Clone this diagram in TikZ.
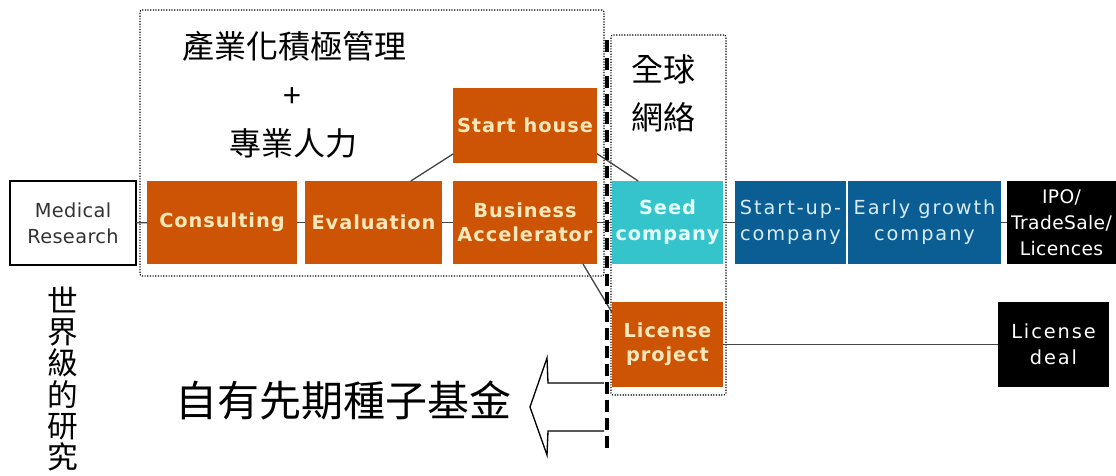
\documentclass[tikz,border=0pt]{standalone}
\usepackage{fontspec}
\setmainfont{DejaVu Sans}
\newfontfamily\cjk{Noto Sans CJK TC}
\newfontfamily\bxfont[LetterSpace=10]{DejaVu Sans}
\newfontfamily\bxplain[LetterSpace=2]{DejaVu Sans}
\newfontfamily\bxboldf[LetterSpace=5]{DejaVu Sans}
\definecolor{orangeC}{RGB}{204,84,4}
\definecolor{creamC}{RGB}{250,232,186}
\definecolor{cyanC}{RGB}{54,196,204}
\definecolor{cyantxt}{RGB}{228,255,255}
\definecolor{blueC}{RGB}{10,94,148}
\definecolor{bluetxt}{RGB}{215,236,248}
\definecolor{lineC}{RGB}{70,70,70}
\newcommand\rbox[7]{\node[#1, minimum width={(#4-#2)*0.75pt}, minimum height={(#5-#3)*0.75pt}] (#6) at ({(#2+#4)/2},{(#3+#5)/2}) {#7};}
\begin{document}
\begin{tikzpicture}[x=0.75pt,y=-0.75pt,
  box/.style={inner sep=0pt, outer sep=0pt, align=center, font=\bxfont\fontsize{14.5}{19.5}\selectfont},
  obox/.style={box, fill=orangeC, text=creamC, font=\bxboldf\bfseries\fontsize{14.5}{18}\selectfont},
  cbox/.style={box, fill=cyanC, text=cyantxt, font=\bxboldf\bfseries\fontsize{14.5}{19.5}\selectfont},
  bbox/.style={box, fill=blueC, text=bluetxt},
  kbox/.style={box, fill=black, text=white},
  wbox/.style={box, fill=white, draw=black, line width=1.1pt, text=black!80, font=\bxplain\fontsize{14.5}{19.5}\selectfont},
  frame/.style={inner sep=0pt, draw=black, line width=0.9pt, dash pattern=on 0.9pt off 1.1pt, rounded corners=1.5pt},
  conn/.style={draw=lineC, line width=1pt},
  cjktext/.style={inner sep=0pt, font=\cjk\fontsize{24}{30}\selectfont},
  dashline/.style={draw=black, line width=2.4pt, dash pattern=on 9pt off 4.5pt},
]
\useasboundingbox (0,0) rectangle (1116,475);

% frames
\rbox{frame}{140}{10}{604}{276}{frameA}{}
\rbox{frame}{611}{35}{726}{395}{frameB}{}

% boxes
\rbox{wbox}{10}{181}{136}{265}{med}{Medical\\Research}
\rbox{obox}{147}{181}{297}{264}{cons}{Consulting}
\rbox{obox}{305}{181}{442}{264}{eval}{Evaluation}
\rbox{obox}{453}{181}{597}{264}{bacc}{Business\\Accelerator}
\rbox{obox}{453}{88}{597}{163}{start}{Start house}
\rbox{cbox}{612}{181}{723}{264}{seed}{Seed\\company}
\rbox{bbox}{735}{181}{846}{264}{sup}{Start-up-\\company}
\rbox{bbox}{848}{181}{1001}{264}{early}{Early growth\\company}
\rbox{kbox, font=\bxplain\fontsize{14}{19.5}\selectfont}{1007}{181}{1116}{264}{ipo}{IPO/\\TradeSale/\\Licences}
\rbox{obox}{612}{302}{723}{387}{lproj}{License\\project}
\rbox{kbox}{998}{302}{1109}{387}{ldeal}{License\\deal}

% connectors
\draw[conn] (med) -- (cons);
\draw[conn] (cons) -- (eval);
\draw[conn] (eval) -- (bacc);
\draw[conn] (bacc) -- (seed);
\draw[conn] (seed) -- (sup);
\draw[conn] (early) -- (ipo);
\draw[conn] (lproj) -- (ldeal);
\draw[conn] ([xshift=28pt]eval.north) -- ([yshift=6.75pt]start.south west);
\draw[conn] ([yshift=7pt]start.south east) -- ([xshift=-22pt]seed.north);
\draw[conn] ([xshift=-10.5pt]bacc.south east) -- ([yshift=24pt]lproj.west);

% dashed separator
\draw[dashline] (607,40) -- (607,450);

% texts
\node[cjktext] (t1) at (294,46) {產業化積極管理};
\node[cjktext] (t2) at (292,98) {+};
\node[cjktext] (t3) at (293,143) {專業人力};
\node[cjktext] (t4) at (663,69) {全球};
\node[cjktext] (t5) at (663,117) {網絡};
\node[inner sep=0pt, align=center, font=\cjk\fontsize{23}{23.5}\selectfont] (t6) at (63,379) {世\\界\\級\\的\\研\\究};
\node[inner sep=0pt, font=\cjk\fontsize{31.5}{36}\selectfont] (t7) at (343,400) {自有先期種子基金};

% block arrow
\draw[black, line width=1pt, fill=white] (604,383) -- (548,383) -- (547,358) -- (530,407) -- (547,455) -- (548,431) -- (604,431);
\end{tikzpicture}
\end{document}
